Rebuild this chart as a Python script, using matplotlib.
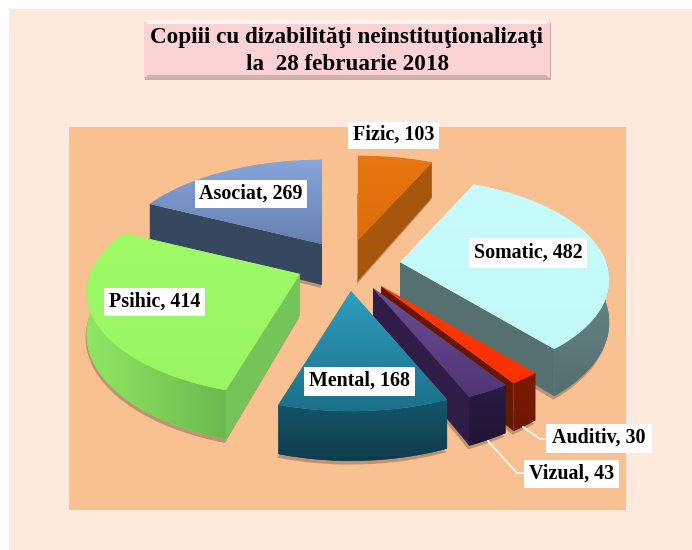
import numpy as np
import matplotlib
matplotlib.use('Agg')
import matplotlib.pyplot as plt
from matplotlib.patches import Polygon, Rectangle

# date
categories = ['Fizic', 'Somatic', 'Auditiv', 'Vizual', 'Mental', 'Psihic', 'Asociat']
values = [103, 482, 30, 43, 168, 414, 269]

# varful fiecarei felii, in pixeli
apex_x = [358, 400, 381, 373, 351, 300, 322]
apex_y = [240, 262, 286, 288, 291, 274, 244]

# culori: sus (gradient), perete taiat, perete exterior
top_colors = [('#e8760f', '#dc6c0c'), ('#c8fcfc', '#c2f8f8'), ('#ff3a00', '#fb3000'),
              ('#6c4c98', '#503573'), ('#2f9fbf', '#1c7089'), ('#9efb66', '#99f563'),
              ('#88a6dc', '#6680b0')]
cut_colors = ['#a8560e', '#566f6f', '#651800', '#2f1d47', '#124a5c', '#74c457', '#364760']
outer_colors = [('#a8560e', '#a8560e'), ('#6b8b8c', '#556e6e'), ('#7a1c00', '#6e1800'),
                ('#2a1b42', '#211535'), ('#15566b', '#0f3c4b'), ('#8fe662', '#6cb950'),
                ('#364760', '#364760')]

# ordinea de desenare, din spate in fata
draw_order = [6, 0, 1, 5, 2, 3, 4]

box_left = [348, 469, 546, 524, 304, 104, 195]
box_top = [122, 238, 424, 460, 367, 288, 180]
box_w = [91, 118, 106, 95, 111, 101, 112]
box_h = [27, 30, 29, 28, 29, 28, 28]

# Psihic iese putin mai mult in stanga decat restul
radius_scale = [1.0, 1.0, 1.0, 1.0, 1.0, 1.02, 1.0]

A, B, K, WALL = 206.0, 99.0, 0.176, 41.0

FONT = 'Liberation Serif'

fig = plt.figure(figsize=(6.92, 5.5), dpi=100)
ax = fig.add_axes([0, 0, 1, 1])
ax.set_xlim(0, 692)
ax.set_ylim(550, 0)
ax.axis('off')


def project(i, theta, h=0.0):
    # unghi in sens orar de la nord, perspectiva simpla
    X = np.sin(theta)
    Y = np.cos(theta)
    s = 1 / (1 + K * Y)
    r = radius_scale[i]
    return apex_x[i] + r * A * X * s, apex_y[i] - r * B * Y * s + h * s


def fill_gradient(pts, c1, c2, z, horizontal=False):
    pts = np.array(pts)
    x0, x1 = pts[:, 0].min(), pts[:, 0].max()
    y0, y1 = pts[:, 1].min(), pts[:, 1].max()
    a = np.array(matplotlib.colors.to_rgb(c1))
    b = np.array(matplotlib.colors.to_rgb(c2))
    t = np.linspace(0, 1, 64)[:, None]
    grad = (a * (1 - t) + b * t)[:, None, :]
    if horizontal:
        grad = grad.transpose(1, 0, 2)
    poly = Polygon(pts, closed=True, fc=c1, ec='none', zorder=z)
    ax.add_patch(poly)
    im = ax.imshow(grad, extent=(x0, x1, y1, y0), aspect='auto', zorder=z, interpolation='bilinear')
    im.set_clip_path(poly)


ax.add_patch(Rectangle((0, 0), 692, 550, fc='white', ec='none', zorder=0))
ax.add_patch(Rectangle((9, 9), 683, 541, fc='#fdeadd', ec='none', zorder=0.1))
ax.add_patch(Rectangle((69, 127), 557, 383, fc='#f9c091', ec='none', zorder=0.2))

# titlu
ax.add_patch(Rectangle((145, 23), 406, 57, fc='#8a7474', ec='none', alpha=0.5, zorder=1))
ax.add_patch(Rectangle((144, 20), 406, 58, fc='#fcd3d5', ec='none', zorder=1.1))
ax.add_patch(Polygon([(144, 20), (550, 20), (546, 24), (148, 24)], fc='#fff3f3', ec='none', zorder=1.2))
ax.add_patch(Polygon([(144, 78), (550, 78), (546, 75), (148, 75)], fc='#d8aeb0', ec='none', zorder=1.2))
ax.text(347, 37, 'Copiii cu dizabilităţi neinstituţionalizaţi', family=FONT, weight='bold',
        fontsize=16.7, ha='center', va='center', color='black', zorder=2)
ax.text(347, 64, 'la  28 februarie 2018', family=FONT, weight='bold',
        fontsize=16.7, ha='center', va='center', color='black', zorder=2)

# felii
angles = np.cumsum([0] + values) / sum(values) * 2 * np.pi
z = 3.0
for i in draw_order:
    t0, t1 = angles[i], angles[i + 1]
    thetas = np.linspace(t0, t1, 80)

    # umbra de sub felie
    shadow = [project(i, t, WALL + 3) for t in thetas] + [(apex_x[i], apex_y[i] + WALL + 3)]
    shadow = [(p[0] - 1, p[1]) for p in shadow]
    ax.add_patch(Polygon(shadow, fc='#7a5a48', ec='none', alpha=0.45, zorder=z))
    z += 0.01

    # perete exterior, doar partea din fata
    lo, hi = max(t0, np.pi / 2), min(t1, 3 * np.pi / 2)
    if hi > lo:
        arc = np.linspace(lo, hi, 80)
        pts = [project(i, t) for t in arc] + [project(i, t, WALL) for t in arc[::-1]]
        fill_gradient(pts, outer_colors[i][0], outer_colors[i][1], z, horizontal=t1 > np.pi and t0 > np.pi)
        z += 0.01

    # pereti taiati vizibili
    if np.sin(t0) < -1e-6:
        pts = [(apex_x[i], apex_y[i]), project(i, t0), project(i, t0, WALL),
               (apex_x[i], apex_y[i] + WALL)]
        ax.add_patch(Polygon(pts, fc=cut_colors[i], ec='none', zorder=z))
        z += 0.01
    if np.sin(t1) > 1e-6:
        pts = [(apex_x[i], apex_y[i]), project(i, t1), project(i, t1, WALL),
               (apex_x[i], apex_y[i] + WALL)]
        ax.add_patch(Polygon(pts, fc=cut_colors[i], ec='none', zorder=z))
        z += 0.01

    # fata de sus
    pts = [(apex_x[i], apex_y[i])] + [project(i, t) for t in thetas]
    fill_gradient(pts, top_colors[i][0], top_colors[i][1], z)
    z += 0.01

ax.set_xlim(0, 692)
ax.set_ylim(550, 0)

# linii de legatura
ax.plot([523, 540, 546], [427, 439, 439], color='#fff6ee', lw=1.3, zorder=8)
ax.plot([488, 517, 524], [441, 473, 473], color='#fff6ee', lw=1.3, zorder=8)

# etichete
for i, name in enumerate(categories):
    ax.add_patch(Rectangle((box_left[i], box_top[i]), box_w[i], box_h[i], fc='white', ec='none', zorder=9))
    ax.text(box_left[i] + box_w[i] / 2, box_top[i] + box_h[i] / 2 - 0.5, f'{name}, {values[i]}',
            family=FONT, weight='bold', fontsize=14.4, ha='center', va='center', color='black', zorder=10)

fig.savefig('out.png', dpi=100)
